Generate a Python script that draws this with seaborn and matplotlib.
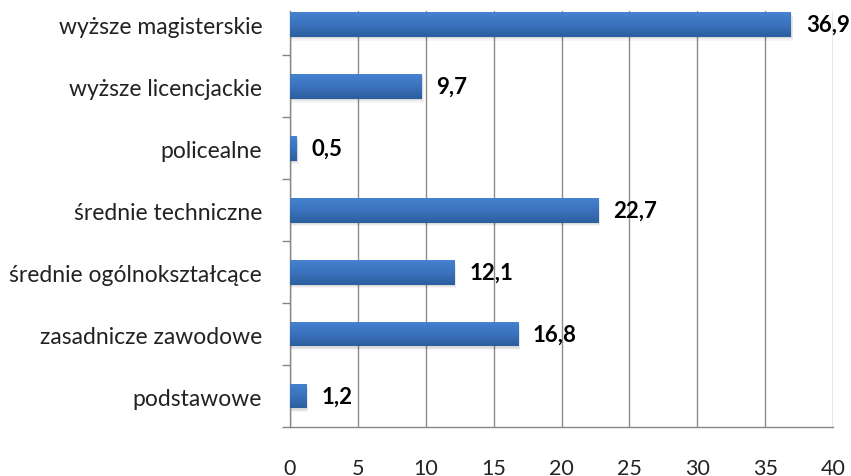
import numpy as np
import pandas as pd
import matplotlib
matplotlib.use("Agg")
import matplotlib.pyplot as plt
import seaborn as sns
from matplotlib.colors import LinearSegmentedColormap

categories = [
    "wyższe magisterskie",
    "wyższe licencjackie",
    "policealne",
    "średnie techniczne",
    "średnie ogólnokształcące",
    "zasadnicze zawodowe",
    "podstawowe",
]
values = [36.9, 9.7, 0.5, 22.7, 12.1, 16.8, 1.2]
x_ticks = [0, 5, 10, 15, 20, 25, 30, 35, 40]

df = pd.DataFrame({"kategoria": categories, "procent": values})

sns.set_theme(style="white")
plt.rcParams["font.family"] = ["Lato", "DejaVu Sans"]

fig = plt.figure(figsize=(8.51, 4.77), dpi=100)
W, H = 851, 477
ax = fig.add_axes([290 / W, 1 - 428 / H, (833 - 290) / W, (428 - 12) / H])

sns.barplot(data=df, x="procent", y="kategoria", orient="h", color="#3a6fb6",
            width=0.40, ax=ax, zorder=3)

ax.set_xlim(0, 40)
ax.set_ylim(6.5, -0.218)

# vertical gradient fill (light top, dark bottom) and a soft shadow under each bar
grad = LinearSegmentedColormap.from_list("bar", ["#4682cf", "#3a72bd", "#2c5e9e"])
for p in ax.patches:
    x0, y0 = p.get_x(), p.get_y()
    w, h = p.get_width(), p.get_height()
    for k, a in enumerate([0.06, 0.05, 0.04]):
        shadow = plt.Rectangle((x0 + 0.03, y0 + 0.02 + 0.02 * k), w + 0.05 + 0.04 * k, h,
                               facecolor="#000000", alpha=a, edgecolor="none", zorder=2)
        ax.add_patch(shadow)
    img = np.linspace(0, 1, 64).reshape(-1, 1)
    im = ax.imshow(img, cmap=grad, aspect="auto",
                   extent=[x0, x0 + w, y0 + h, y0], origin="upper", zorder=4)
    im.set_clip_path(p)
    p.set_edgecolor("none")

ax.set_xlim(0, 40)
ax.set_ylim(6.5, -0.218)

for i, v in enumerate(values):
    ax.text(v + 1.1, i, f"{v:.1f}".replace(".", ","), va="center", ha="left",
            fontsize=16, fontweight="bold", color="#000000", zorder=5)

ax.set_xticks(x_ticks)
ax.set_xticklabels([str(t) for t in x_ticks], fontsize=15.5, color="#222222")
ax.set_yticks(range(len(categories)))
ax.set_yticklabels(categories, fontsize=16.5, color="#222222")
ax.tick_params(axis="y", length=0, pad=20)
ax.tick_params(axis="x", length=0, pad=22)

# category separators as tick marks on the value axis
ax.set_yticks([k + 0.5 for k in range(len(categories))], minor=True)
ax.tick_params(axis="y", which="minor", length=6, width=1, color="#868686", left=True)
ax.set_xticks(x_ticks, minor=True)
ax.tick_params(axis="x", which="minor", length=4, width=1, color="#868686", bottom=True)

ax.grid(axis="x", color="#8c8c8c", linewidth=1, zorder=0)
ax.set_axisbelow(True)
for s in ["top", "right"]:
    ax.spines[s].set_visible(False)
for s in ["left", "bottom"]:
    ax.spines[s].set_color("#868686")
    ax.spines[s].set_linewidth(1)
ax.set_xlabel("")
ax.set_ylabel("")

fig.savefig("out.png", dpi=100)
